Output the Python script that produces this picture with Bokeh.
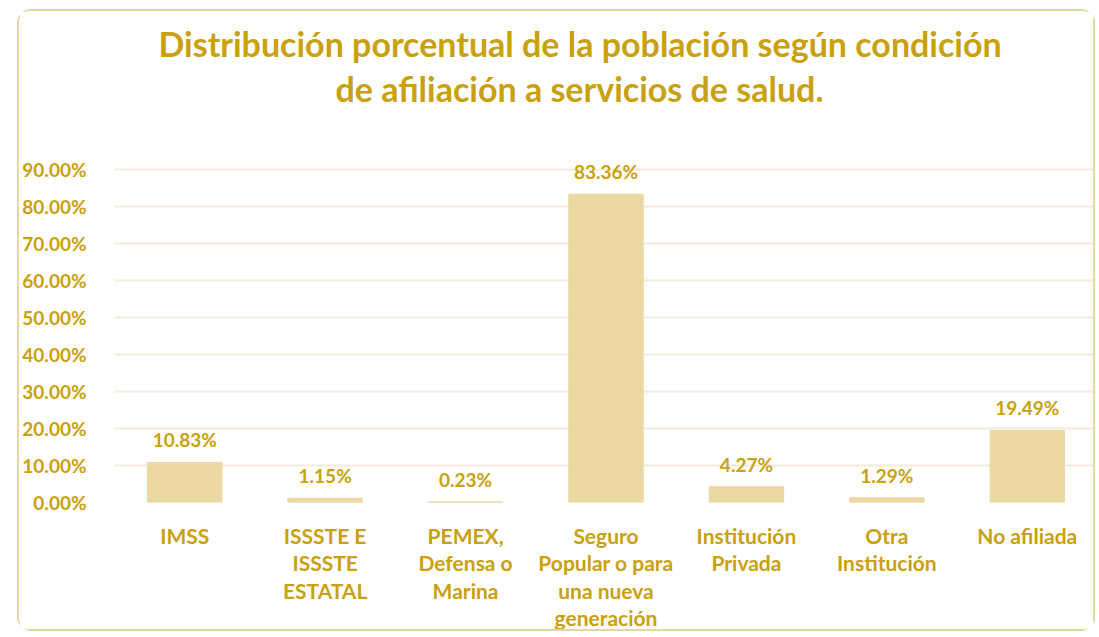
from bokeh.plotting import figure
from bokeh.models import Title, PrintfTickFormatter, ColumnDataSource, FixedTicker
from bokeh.core.properties import value
from bokeh.embed import file_html
from bokeh.resources import INLINE

categories = ["IMSS", "ISSSTE E\nISSSTE\nESTATAL", "PEMEX,\nDefensa o\nMarina",
              "Seguro\nPopular o para\nuna nueva\ngeneración", "Institución\nPrivada",
              "Otra\nInstitución", "No afiliada"]
values = [10.83, 1.15, 0.23, 83.36, 4.27, 1.29, 19.49]
y_ticks = [0, 10, 20, 30, 40, 50, 60, 70, 80, 90]
title_lines = ["Distribución porcentual de la población según condición",
               "de afiliación a servicios de salud."]

GOLD = "#C9A00E"
BAR = "#EBD8A2"
GRID = "#F3ECD8"
FONT = "Lato"

src = ColumnDataSource(dict(cat=categories, val=values,
                            lab=[f"{v:.2f}%" for v in values]))

p = figure(x_range=categories, y_range=(0, 93), width=1078, height=622,
           output_backend="svg", toolbar_location=None,
           min_border_left=93, min_border_right=0, min_border_bottom=128,
           min_border_top=147)
p.styles = {"border": "2px solid #E6D6A2", "border-radius": "14px",
            "margin-left": "17px", "margin-top": "9px", "margin-bottom": "-20px"}

p.vbar(x="cat", top="val", width=0.53, source=src, color=BAR)
p.text(x="cat", y="val", text="lab", source=src, text_align="center",
       text_baseline="bottom", y_offset=-11, text_color=GOLD,
       text_font=value(FONT), text_font_style="bold", text_font_size="19px")

# spacer between the frame and the title lines
p.add_layout(Title(text=" ", text_font_size="10px", standoff=35), "above")
p.add_layout(Title(text=title_lines[1], align="left", offset=221,
                   text_font=FONT, text_font_size="34px", text_font_style="bold",
                   text_color=GOLD, standoff=4), "above")
p.add_layout(Title(text=title_lines[0], align="left", offset=44,
                   text_font=FONT, text_font_size="34px", text_font_style="bold",
                   text_color=GOLD, standoff=0), "above")

p.yaxis.ticker = FixedTicker(ticks=y_ticks)
p.yaxis.formatter = PrintfTickFormatter(format="%.2f%%")
for ax in (p.xaxis, p.yaxis):
    ax.axis_line_color = None
    ax.major_tick_line_color = None
    ax.minor_tick_line_color = None
    ax.major_label_text_color = GOLD
    ax.major_label_text_font = FONT
    ax.major_label_text_font_style = "bold"
p.yaxis.major_label_text_font_size = "19px"
p.xaxis.major_label_text_font_size = "21px"
p.xaxis.major_label_text_line_height = 1.1
p.yaxis.major_label_standoff = 22
p.xaxis.major_label_standoff = 14

p.xgrid.grid_line_color = None
p.ygrid.grid_line_color = GRID
p.ygrid.grid_line_width = 2
p.outline_line_color = None
p.x_range.range_padding = 0

open("out.html", "w").write(file_html(p, INLINE))
